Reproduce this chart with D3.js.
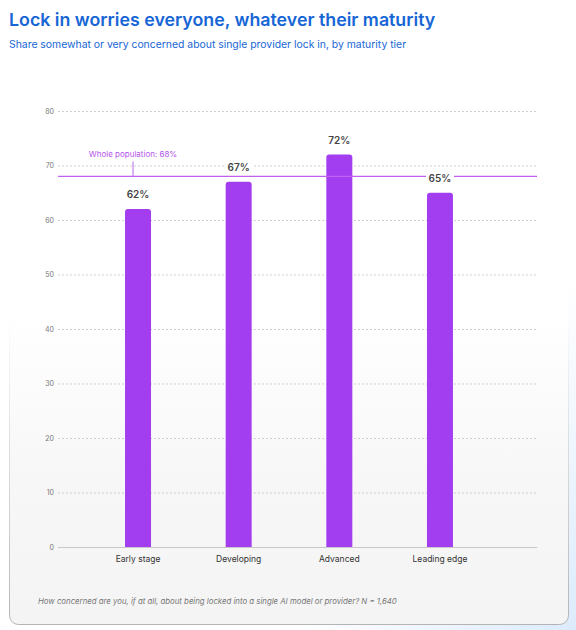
<!DOCTYPE html>
<html>
<head>
	<meta charset="utf-8">
	<title>Lock in worries everyone</title>
	<script src="https://d3js.org/d3.v7.min.js"></script>
	<style>
		html, body { margin: 0; padding: 0; background: #fff; }
		text { font-family: Inter, "Noto Sans", sans-serif; }
	</style>
</head>
<body>
	<div class="chart"></div>

	<script type="text/javascript">
		// data
		const tiers = ['Early stage', 'Developing', 'Advanced', 'Leading edge']
		const concerned = [62, 67, 72, 65]
		const yTicks = [0, 10, 20, 30, 40, 50, 60, 70, 80]
		const wholePopulation = 68

		const width = 576
		const height = 630

		const svg = d3
			.select('.chart')
			.append('svg')
			.attr('width', width)
			.attr('height', height)

		const defs = svg.append('defs')

		// card background fades from white to light grey
		const bg = defs.append('linearGradient')
			.attr('id', 'cardFill')
			.attr('x1', 0).attr('y1', 0).attr('x2', 0).attr('y2', 1)
		bg.append('stop').attr('offset', '0.45').attr('stop-color', '#ffffff')
		bg.append('stop').attr('offset', '0.75').attr('stop-color', '#f7f7f7')
		bg.append('stop').attr('offset', '1').attr('stop-color', '#f4f4f4')

		const border = defs.append('linearGradient')
			.attr('id', 'cardStroke')
			.attr('x1', 0).attr('y1', 0).attr('x2', 0).attr('y2', 1)
		border.append('stop').attr('offset', '0.45').attr('stop-color', '#c8c8c8').attr('stop-opacity', 0)
		border.append('stop').attr('offset', '0.7').attr('stop-color', '#c8c8c8').attr('stop-opacity', 0.6)
		border.append('stop').attr('offset', '1').attr('stop-color', '#b4b4b4').attr('stop-opacity', 1)

		const glow = defs.append('radialGradient')
			.attr('id', 'glow')
			.attr('cx', '1').attr('cy', '1').attr('r', '1')
		glow.append('stop').attr('offset', '0').attr('stop-color', '#dcebfb')
		glow.append('stop').attr('offset', '1').attr('stop-color', '#dcebfb').attr('stop-opacity', 0)

		svg.append('rect')
			.attr('x', 300).attr('y', 280)
			.attr('width', 276).attr('height', 350)
			.attr('fill', 'url(#glow)')

		svg.append('rect')
			.attr('x', 9.5).attr('y', 60.5)
			.attr('width', 559).attr('height', 564)
			.attr('rx', 9)
			.attr('fill', 'url(#cardFill)')
			.attr('stroke', 'url(#cardStroke)')

		// titles
		svg.append('text')
			.attr('x', 9).attr('y', 26)
			.attr('font-size', 17.8)
			.attr('font-weight', 600)
			.attr('fill', '#1766d6')
			.text('Lock in worries everyone, whatever their maturity')

		svg.append('text')
			.attr('x', 9).attr('y', 48)
			.attr('font-size', 10.4)
			.attr('fill', '#1766d6')
			.text('Share somewhat or very concerned about single provider lock in, by maturity tier')

		// scales
		const y = d3.scaleLinear().domain([0, 80]).range([547, 111])
		const x = d3.scaleBand().domain(tiers).range([87.7, 490.3]).paddingInner(0).paddingOuter(0)
		const barW = 26
		const gridX0 = 58
		const gridX1 = 537

		// gridlines + tick labels
		const grid = svg.append('g')
		grid.selectAll('line')
			.data(yTicks)
			.join('line')
			.attr('x1', gridX0).attr('x2', gridX1)
			.attr('y1', (d) => y(d) + 0.5).attr('y2', (d) => y(d) + 0.5)
			.attr('stroke', (d) => (d === 0 ? '#c8c8c8' : '#cfcfcf'))
			.attr('stroke-width', 1)
			.attr('stroke-dasharray', (d) => (d === 0 ? null : '2,2'))

		grid.selectAll('text')
			.data(yTicks)
			.join('text')
			.attr('x', 54).attr('y', (d) => y(d) + 2.5)
			.attr('text-anchor', 'end')
			.attr('font-size', 7)
			.attr('fill', '#777')
			.text((d) => d)

		// bars
		const cx = (d) => x(d) + x.bandwidth() / 2
		const r = 3
		svg.append('g')
			.selectAll('path')
			.data(tiers)
			.join('path')
			.attr('fill', '#a23eef')
			.attr('d', (d, i) => {
				const x0 = cx(d) - barW / 2
				const x1 = cx(d) + barW / 2
				const yt = y(concerned[i])
				const yb = y(0)
				return `M${x0},${yb}V${yt + r}Q${x0},${yt} ${x0 + r},${yt}H${x1 - r}Q${x1},${yt} ${x1},${yt + r}V${yb}Z`
			})

		// whole population reference line
		const ref = svg.append('g')
		ref.append('line')
			.attr('x1', gridX0).attr('x2', gridX1)
			.attr('y1', y(wholePopulation)).attr('y2', y(wholePopulation))
			.attr('stroke', '#c061f2')
			.attr('stroke-width', 1.3)
		ref.append('line')
			.attr('x1', cx(tiers[0]) - 5).attr('x2', cx(tiers[0]) - 5)
			.attr('y1', y(wholePopulation) - 15).attr('y2', y(wholePopulation))
			.attr('stroke', '#c98af3')
			.attr('stroke-width', 1.3)
		ref.append('text')
			.attr('x', cx(tiers[0]) - 5).attr('y', y(wholePopulation) - 19)
			.attr('text-anchor', 'middle')
			.attr('font-size', 8)
			.attr('fill', '#b553ea')
			.text(`Whole population: ${wholePopulation}%`)

		// value labels, with a knock-out behind so the line breaks around them
		const labels = svg.append('g')
			.selectAll('g')
			.data(tiers)
			.join('g')
			.attr('transform', (d, i) => `translate(${cx(d)}, ${y(concerned[i]) - 11})`)

		labels.append('rect')
			.attr('x', -14).attr('y', -10)
			.attr('width', 28).attr('height', 14)
			.attr('fill', '#fff')

		labels.append('text')
			.attr('text-anchor', 'middle')
			.attr('font-size', 10)
			.attr('font-weight', 600)
			.attr('fill', '#444')
			.text((d, i) => `${concerned[i]}%`)

		// x labels
		svg.append('g')
			.selectAll('text')
			.data(tiers)
			.join('text')
			.attr('x', cx)
			.attr('y', 562)
			.attr('text-anchor', 'middle')
			.attr('font-size', 8.5)
			.attr('fill', '#333')
			.text((d) => d)

		// footnote
		svg.append('text')
			.attr('x', 38).attr('y', 604)
			.attr('font-size', 7.8)
			.attr('font-style', 'italic')
			.attr('fill', '#777')
			.text('How concerned are you, if at all, about being locked into a single AI model or provider? N = 1,640')
	</script>
</body>
</html>
